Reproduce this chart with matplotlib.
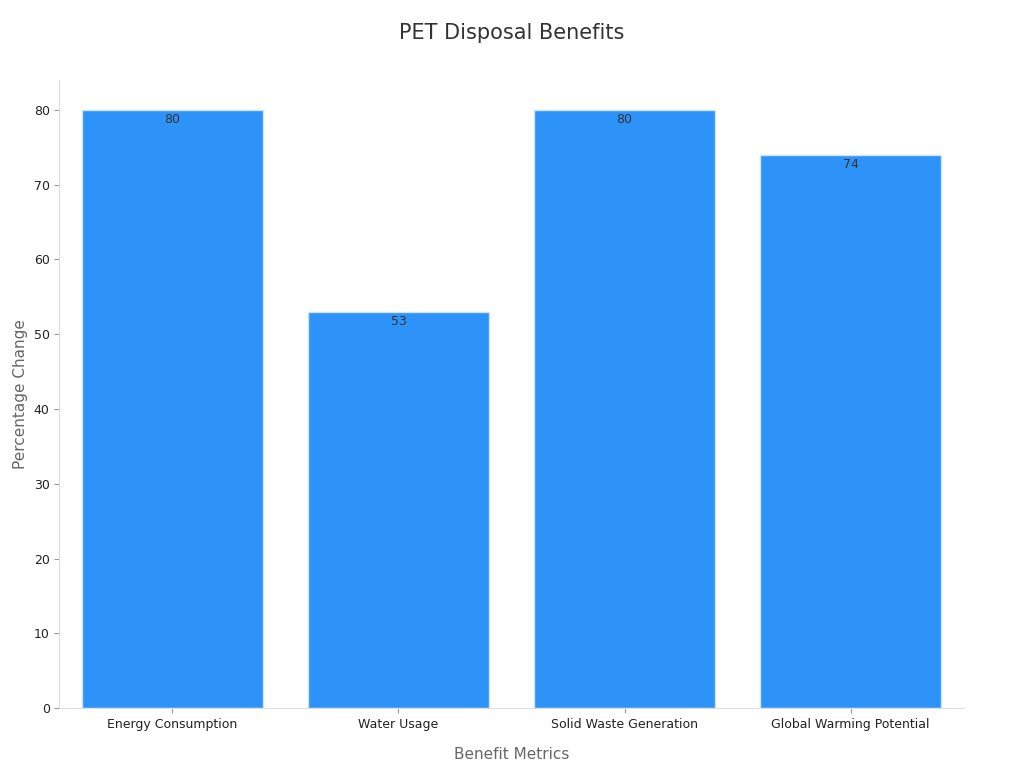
import matplotlib
matplotlib.use("Agg")
import matplotlib.pyplot as plt

categories = ["Energy Consumption", "Water Usage", "Solid Waste Generation", "Global Warming Potential"]
values = [80, 53, 80, 74]

fig = plt.figure(figsize=(10.24, 7.68), dpi=100)
ax = fig.add_axes([0.058, 0.078, 0.883, 0.818])
x = range(len(categories))
bars = ax.bar(x, values, width=0.8, color="#2e93f8", edgecolor="#cfe3f7", linewidth=1)
for xi, v in zip(x, values):
    ax.text(xi, v - 0.4, str(v), ha="center", va="top", fontsize=9, color="#333333")
ax.set_xticks(list(x))
ax.set_xticklabels(categories, fontsize=9, color="#222222")
ax.set_xlim(-0.5, 3.5)
ax.set_ylim(0, 84)
ax.set_yticks(range(0, 81, 10))
ax.tick_params(axis="y", labelsize=9, colors="#222222")
ax.tick_params(axis="both", color="#999999")
ax.set_xlabel("Benefit Metrics", fontsize=11, color="#666666", labelpad=12)
ax.set_ylabel("Percentage Change", fontsize=11, color="#666666")
for s in ["top", "right"]:
    ax.spines[s].set_visible(False)
for s in ["left", "bottom"]:
    ax.spines[s].set_color("#dddddd")
fig.suptitle("PET Disposal Benefits", fontsize=15, color="#333333", y=0.97)
fig.savefig("out.png")
